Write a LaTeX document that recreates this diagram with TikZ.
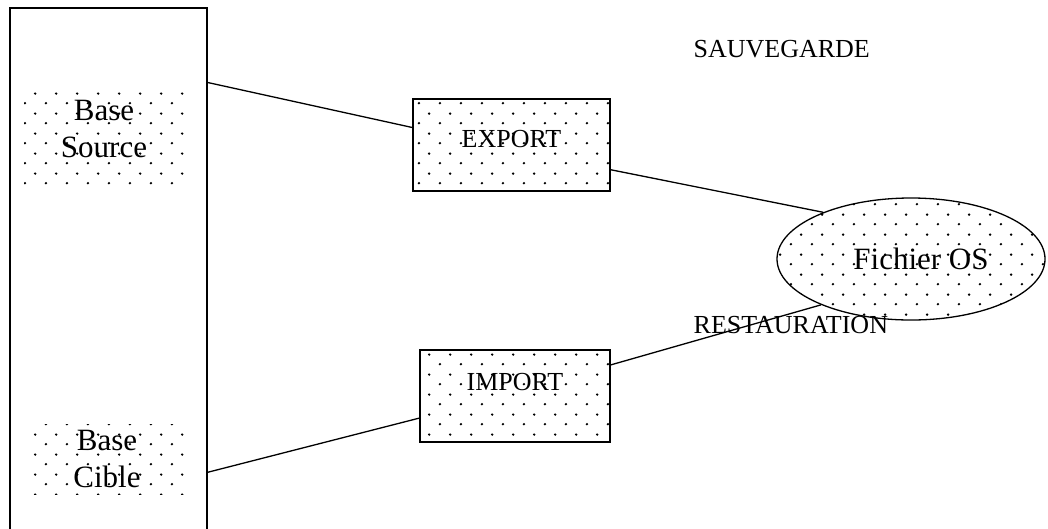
\documentclass[tikz,border=0pt]{standalone}
\usepackage{fontspec}
\setmainfont{Liberation Serif}
\usetikzlibrary{shapes.geometric,patterns.meta}
\tikzdeclarepattern{
  name=sparsedots,
  type=uncolored,
  bottom left={(0pt,0pt)},
  top right={(20.7pt,20pt)},
  tile size={(20.7pt,20pt)},
  code={
    \fill (5pt,5pt) circle (1.35pt);
    \fill (15.35pt,15pt) circle (1.35pt);
  }
}
\begin{document}
\begin{tikzpicture}[x=1pt,y=-1pt,line width=1.3pt]
\tikzstyle{every node}+=[inner sep=0pt]
\tikzstyle{dotted area}=[pattern=sparsedots,pattern color=black]
\tikzstyle{big}=[font=\fontsize{31}{37}\selectfont,align=center]
\tikzstyle{small}=[font=\fontsize{26}{30}\selectfont]
\useasboundingbox (0,0) rectangle (1048,528);
\node [draw=black,minimum width=197,minimum height=522] (bases) at (108.5,269) {};
\node [dotted area,big,minimum width=160,minimum height=100,text depth=22] (source) at (104,140) {Base\\Source};
\node [dotted area,big,minimum width=154,minimum height=70] (cible) at (107,459) {Base\\Cible};
\node [draw=black,dotted area,small,minimum width=197,minimum height=92,text depth=13] (export) at (511.5,145) {EXPORT};
\node [draw=black,dotted area,small,minimum width=190,minimum height=92,text depth=29] (import) at (515,396) {IMPORT};
\node [draw=black,ellipse,dotted area,big,minimum width=268,minimum height=122] (fichier) at (911,259) {\hspace{20pt}Fichier OS};
\node [small,anchor=base west] (sauvegarde) at (693,57) {SAUVEGARDE};
\node [small,anchor=base west] (restauration) at (693,333) {RESTAURATION};
\draw [black] (bases.62) -- (export.170.8);
\draw [black] (export.346.9) -- (fichier.152.4);
\draw [black] (import.18.1) -- (fichier.207.6);
\draw [black] (import.193) -- (bases.296);
\end{tikzpicture}
\end{document}
